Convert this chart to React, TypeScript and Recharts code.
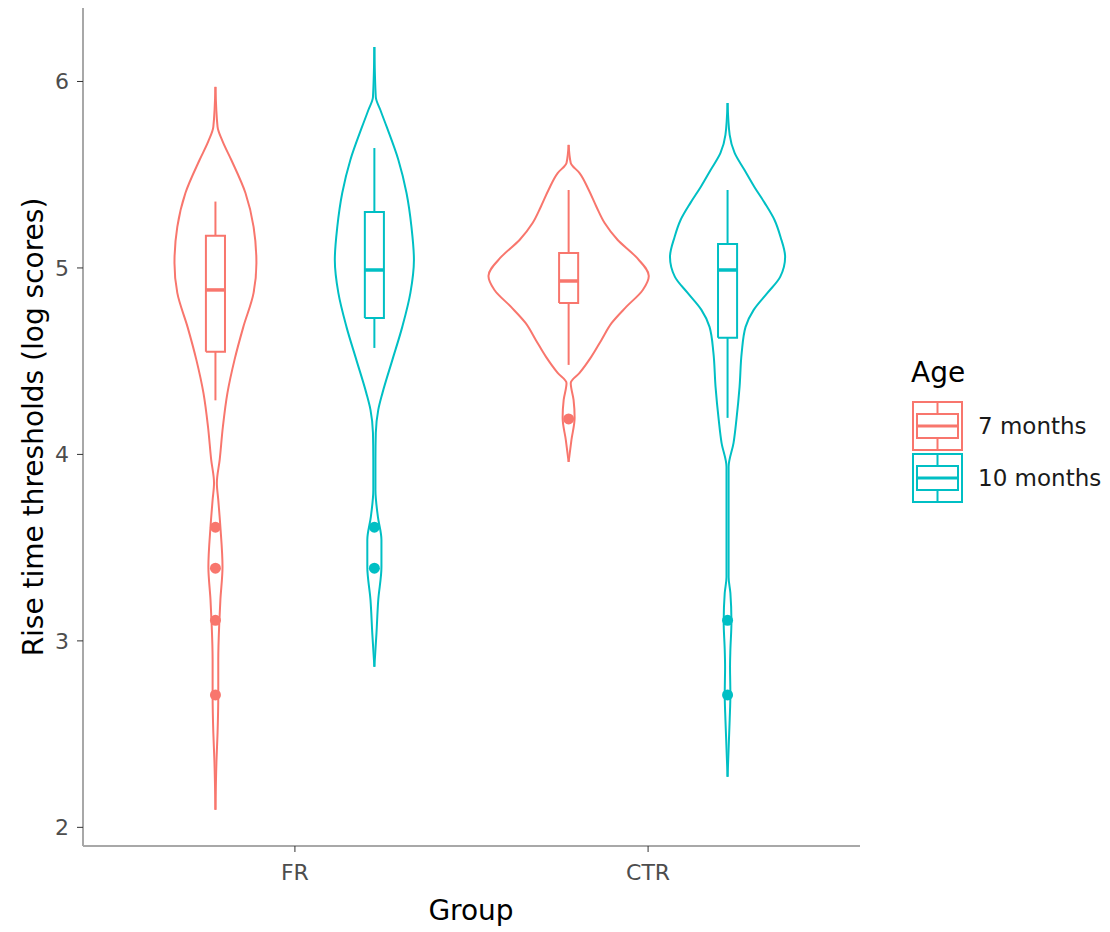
import React from "react";
import { ComposedChart, Scatter, XAxis, YAxis } from "recharts";

const groups = ["FR", "CTR"];
const ages = ["7 months", "10 months"];
const ageColors = ["#F8766D", "#00BFC4"];
const yTicks = [2, 3, 4, 5, 6];

// violin outlines: [value, half width on the x scale]
const violinFR7: [number, number][] = [
  [2.094, 0], [2.362, 0.003], [2.507, 0.006], [2.71, 0.008], [2.898, 0.008],
  [3.102, 0.011], [3.22, 0.014], [3.397, 0.02], [3.611, 0.014], [3.756, 0.008],
  [3.847, 0.004], [3.971, 0.012], [4.147, 0.021], [4.33, 0.034], [4.507, 0.054],
  [4.684, 0.079], [4.866, 0.108], [5.027, 0.116], [5.22, 0.108], [5.402, 0.085],
  [5.579, 0.045], [5.68, 0.02], [5.756, 0.006], [5.971, 0],
];
const violinFR10: [number, number][] = [
  [2.861, 0], [3.043, 0.006], [3.22, 0.011], [3.397, 0.02], [3.542, 0.02],
  [3.665, 0.01], [3.81, 0.003], [3.971, 0.003], [4.115, 0.004], [4.239, 0.011],
  [4.33, 0.023], [4.507, 0.051], [4.684, 0.079], [4.866, 0.102], [5.043, 0.112],
  [5.22, 0.105], [5.402, 0.091], [5.579, 0.068], [5.756, 0.035], [5.847, 0.017],
  [5.917, 0.004], [6.185, 0],
];
const violinCTR7: [number, number][] = [
  [3.96, 0], [4.078, 0.008], [4.196, 0.017], [4.292, 0.014], [4.383, 0.006],
  [4.437, 0.031], [4.523, 0.064], [4.614, 0.093], [4.705, 0.122], [4.791, 0.163],
  [4.882, 0.21], [4.957, 0.227], [5.059, 0.191], [5.15, 0.139], [5.241, 0.102],
  [5.327, 0.079], [5.418, 0.057], [5.509, 0.031], [5.563, 0.006], [5.66, 0],
];
const violinCTR10: [number, number][] = [
  [2.271, 0], [2.576, 0.006], [2.71, 0.008], [2.861, 0.007], [2.952, 0.008],
  [3.102, 0.011], [3.257, 0.008], [3.343, 0.003], [3.649, 0.003], [3.933, 0.003],
  [4.062, 0.017], [4.185, 0.025], [4.362, 0.034], [4.544, 0.04], [4.684, 0.051],
  [4.775, 0.074], [4.866, 0.113], [4.952, 0.149], [5.059, 0.163], [5.166, 0.15],
  [5.257, 0.133], [5.349, 0.105], [5.434, 0.076], [5.525, 0.048], [5.617, 0.02],
  [5.713, 0.006], [5.885, 0],
];

// boxplots: [lower whisker, q1, median, q3, upper whisker]
const boxFR7 = [4.29, 4.551, 4.882, 5.173, 5.356];
const boxFR10 = [4.571, 4.732, 4.989, 5.3, 5.643];
const boxCTR7 = [4.48, 4.812, 4.93, 5.08, 5.418];
const boxCTR10 = [4.196, 4.625, 4.989, 5.128, 5.418];

const outliersFR7 = [3.61, 3.39, 3.11, 2.71];
const outliersFR10 = [3.61, 3.39];
const outliersCTR7 = [4.19];
const outliersCTR10 = [3.11, 2.71];

const series = [
  { group: 0, age: 0, violin: violinFR7, box: boxFR7, outliers: outliersFR7 },
  { group: 0, age: 1, violin: violinFR10, box: boxFR10, outliers: outliersFR10 },
  { group: 1, age: 0, violin: violinCTR7, box: boxCTR7, outliers: outliersCTR7 },
  { group: 1, age: 1, violin: violinCTR10, box: boxCTR10, outliers: outliersCTR10 },
];

const dodge = 0.225;
const boxHalf = 0.027;
const font = "DejaVu Sans, Liberation Sans, sans-serif";

const noDot = () => <g />;

function buildScatters() {
  const out: React.ReactElement[] = [];
  series.forEach((s, i) => {
    const color = ageColors[s.age];
    const cx = s.group + 1 + (s.age === 0 ? -dodge : dodge);
    const sorted = [...s.violin].sort((a, b) => b[0] - a[0]);
    const right = sorted.map(([y, w]) => ({ x: cx + w, y }));
    const left = sorted.map(([y, w]) => ({ x: cx - w, y }));
    const [wLo, q1, med, q3, wHi] = s.box;
    const rect = [
      { x: cx - boxHalf, y: q1 },
      { x: cx + boxHalf, y: q1 },
      { x: cx + boxHalf, y: q3 },
      { x: cx - boxHalf, y: q3 },
      { x: cx - boxHalf, y: q1 },
    ];
    const lines: { key: string; data: { x: number; y: number }[]; width: number; joint: any }[] = [
      { key: "r", data: right, width: 2, joint: "monotoneY" },
      { key: "l", data: left, width: 2, joint: "monotoneY" },
      { key: "box", data: rect, width: 2, joint: "linear" },
      { key: "med", data: [{ x: cx - boxHalf, y: med }, { x: cx + boxHalf, y: med }], width: 3.5, joint: "linear" },
      { key: "wlo", data: [{ x: cx, y: wLo }, { x: cx, y: q1 }], width: 2, joint: "linear" },
      { key: "whi", data: [{ x: cx, y: q3 }, { x: cx, y: wHi }], width: 2, joint: "linear" },
    ];
    lines.forEach((ln) => {
      out.push(
        <Scatter
          key={`${i}-${ln.key}`}
          data={ln.data}
          fill={color}
          line={{ stroke: color, strokeWidth: ln.width }}
          lineJointType={ln.joint}
          shape={noDot}
          isAnimationActive={false}
        />
      );
    });
    out.push(
      <Scatter
        key={`${i}-out`}
        data={s.outliers.map((y) => ({ x: cx, y }))}
        fill={color}
        shape={(p: any) => <circle cx={p.cx} cy={p.cy} r={5.5} fill={color} />}
        isAnimationActive={false}
      />
    );
  });
  return out;
}

function LegendKey({ x, y, color }: { x: number; y: number; color: string }) {
  const w = 49;
  const h = 48;
  const cx = x + w / 2;
  return (
    <g stroke={color} strokeWidth={2} fill="none">
      <rect x={x} y={y} width={w} height={h} />
      <rect x={x + 4} y={y + h * 0.25} width={w - 8} height={h * 0.5} />
      <line x1={x + 4} x2={x + w - 4} y1={y + h * 0.5} y2={y + h * 0.5} strokeWidth={3} />
      <line x1={cx} x2={cx} y1={y} y2={y + h * 0.25} />
      <line x1={cx} x2={cx} y1={y + h * 0.75} y2={y + h} />
    </g>
  );
}

export default function App() {
  return (
    <div style={{ position: "absolute", left: 0, top: 0, width: 1110, height: 932, background: "#fff" }}>
      <ComposedChart width={1110} height={932} margin={{ top: 8, right: 250, bottom: 0, left: 0 }}>
        <XAxis
          type="number"
          dataKey="x"
          domain={[0.4, 2.6]}
          allowDataOverflow
          ticks={[1, 2]}
          tickFormatter={(v: number) => groups[v - 1] ?? ""}
          height={86}
          tickSize={6}
          tickMargin={12}
          tick={{ fill: "#4D4D4D", fontSize: 22, fontFamily: font }}
          tickLine={{ stroke: "#333" }}
          axisLine={{ stroke: "#a8a8a8", strokeWidth: 2 }}
        />
        <YAxis
          type="number"
          dataKey="y"
          domain={[1.9, 6.394]}
          allowDataOverflow
          ticks={yTicks}
          width={83}
          tickSize={6}
          tickMargin={8}
          tick={{ fill: "#4D4D4D", fontSize: 22, fontFamily: font }}
          tickLine={{ stroke: "#333" }}
          axisLine={{ stroke: "#a8a8a8", strokeWidth: 2 }}
        />
        {buildScatters()}
      </ComposedChart>
      <svg
        width={1110}
        height={932}
        style={{ position: "absolute", left: 0, top: 0, pointerEvents: "none" }}
        fontFamily={font}
      >
        <text x={43} y={427} transform="rotate(-90 43 427)" textAnchor="middle" fontSize={28} fill="#000">
          Rise time thresholds (log scores)
        </text>
        <text x={471} y={920} textAnchor="middle" fontSize={28} fill="#000">
          Group
        </text>
        <text x={911} y={382} fontSize={28} fill="#000">
          Age
        </text>
        {ages.map((a, i) => (
          <g key={a}>
            <LegendKey x={913} y={402 + i * 52} color={ageColors[i]} />
            <text x={978} y={434 + i * 52} fontSize={23} fill="#1a1a1a">
              {a}
            </text>
          </g>
        ))}
      </svg>
    </div>
  );
}
